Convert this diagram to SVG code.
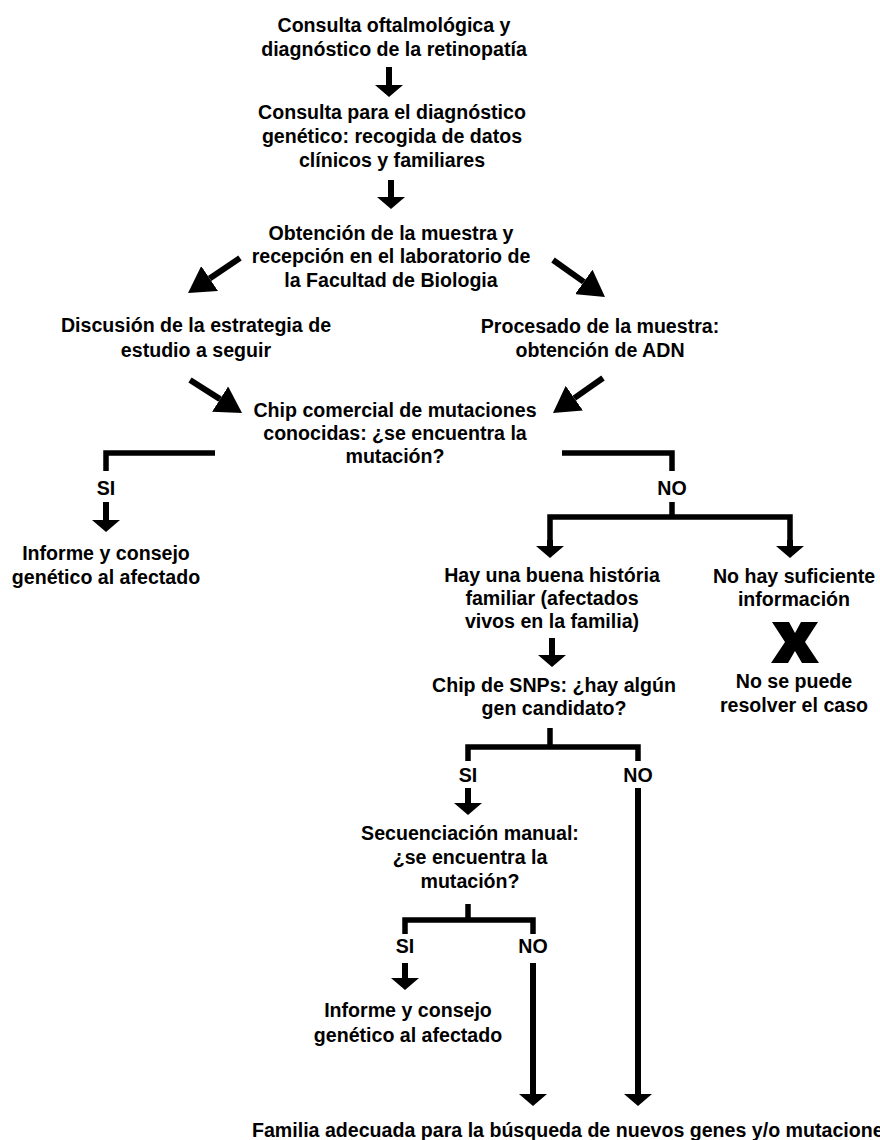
<svg xmlns="http://www.w3.org/2000/svg" width="880" height="1140" viewBox="0 0 880 1140">
<style>
text{font-family:"Liberation Sans",Arial,Helvetica,sans-serif;font-weight:bold;font-size:19.6px;fill:#000;text-anchor:middle}
.start{text-anchor:start}
.ln{stroke:#000;stroke-width:5.5;fill:none;stroke-linecap:butt;stroke-linejoin:miter}
.sh{stroke:#000;stroke-width:6;fill:none}
</style>
<defs>
<marker id="big" viewBox="0 0 26 30" refX="0" refY="15" markerWidth="26" markerHeight="30" markerUnits="userSpaceOnUse" orient="auto"><path d="M0,0 L26,15 L0,30 Z" fill="#000"/></marker>
<marker id="sm" viewBox="0 0 12 28" refX="0" refY="14" markerWidth="12" markerHeight="28" markerUnits="userSpaceOnUse" orient="auto"><path d="M0,0 L12,14 L0,28 Z" fill="#000"/></marker>
</defs>
<rect width="880" height="1140" fill="#fff"/>
<g id="connectors">
<line class="sh" x1="389" y1="67" x2="389" y2="85" marker-end="url(#sm)"/>
<line class="sh" x1="391" y1="180" x2="391" y2="197" marker-end="url(#sm)"/>
<line class="sh" x1="240" y1="258" x2="209.6" y2="278.5" marker-end="url(#big)"/>
<line class="sh" x1="553" y1="260" x2="583.8" y2="281.9" marker-end="url(#big)"/>
<line class="sh" x1="190" y1="380" x2="220.1" y2="399.1" marker-end="url(#big)"/>
<line class="sh" x1="603" y1="378" x2="574.3" y2="398.1" marker-end="url(#big)"/>
<polyline class="ln" points="215,453 106,453 106,471"/>
<line class="sh" x1="106" y1="502" x2="106" y2="520" marker-end="url(#sm)"/>
<polyline class="ln" points="562,453 672,453 672,471"/>
<line class="ln" x1="672" y1="502" x2="672" y2="517"/>
<polyline class="ln" points="550,546 550,517 790,517 790,546"/>
<line class="sh" x1="550" y1="540" x2="550" y2="546" marker-end="url(#sm)"/>
<line class="sh" x1="790" y1="540" x2="790" y2="546" marker-end="url(#sm)"/>
<line class="sh" x1="552" y1="638" x2="552" y2="655" marker-end="url(#sm)"/>
<line class="ln" x1="550" y1="728" x2="550" y2="747"/>
<polyline class="ln" points="468,761 468,747 638,747 638,761"/>
<line class="sh" x1="468" y1="788" x2="468" y2="803" marker-end="url(#sm)"/>
<line class="sh" x1="638" y1="788" x2="638" y2="1094" marker-end="url(#sm)"/>
<line class="ln" x1="468" y1="904" x2="468" y2="920"/>
<polyline class="ln" points="405,934 405,920 533,920 533,934"/>
<line class="sh" x1="405" y1="963" x2="405" y2="978" marker-end="url(#sm)"/>
<line class="sh" x1="533" y1="963" x2="533" y2="1094" marker-end="url(#sm)"/>
</g>
<g id="n1"><text x="394" y="32">Consulta oftalmológica y</text><text x="394" y="56">diagnóstico de la retinopatía</text></g>
<g id="n2"><text x="392" y="119">Consulta para el diagnóstico</text><text x="392" y="143">genético: recogida de datos</text><text x="392" y="167">clínicos y familiares</text></g>
<g id="n3"><text x="391" y="240">Obtención de la muestra y</text><text x="391" y="263">recepción en el laboratorio de</text><text x="391" y="287">la Facultad de Biologia</text></g>
<g id="n4"><text x="196" y="332">Discusión de la estrategia de</text><text x="196" y="357">estudio a seguir</text></g>
<g id="n5"><text x="600" y="333">Procesado de la muestra:</text><text x="600" y="357">obtención de ADN</text></g>
<g id="n6"><text x="395" y="417">Chip comercial de mutaciones</text><text x="395" y="440">conocidas: ¿se encuentra la</text><text x="395" y="463">mutación?</text></g>
<g id="lbl1"><text x="106" y="495">SI</text></g>
<g id="lbl2"><text x="672" y="495">NO</text></g>
<g id="n7"><text x="106" y="560">Informe y consejo</text><text x="106" y="584">genético al afectado</text></g>
<g id="n8"><text x="552" y="582">Hay una buena história</text><text x="552" y="605">familiar (afectados</text><text x="552" y="628">vivos en la familia)</text></g>
<g id="n9"><text x="794" y="583">No hay suficiente</text><text x="794" y="606">información</text></g>
<g id="xmark"><polygon points="772,622 789,622 795,633 801,622 818,622 805,642 819,663 802,663 795,651 788,663 771,663 785,642" fill="#000"/></g>
<g id="n10"><text x="794" y="688">No se puede</text><text x="794" y="712">resolver el caso</text></g>
<g id="n11"><text x="554" y="692">Chip de SNPs: ¿hay algún</text><text x="554" y="715">gen candidato?</text></g>
<g id="lbl3"><text x="468" y="782">SI</text></g>
<g id="lbl4"><text x="638" y="782">NO</text></g>
<g id="n12"><text x="470" y="840">Secuenciación manual:</text><text x="470" y="864">¿se encuentra la</text><text x="470" y="888">mutación?</text></g>
<g id="lbl5"><text x="405" y="953">SI</text></g>
<g id="lbl6"><text x="533" y="953">NO</text></g>
<g id="n13"><text x="408" y="1017">Informe y consejo</text><text x="408" y="1042">genético al afectado</text></g>
<g id="n14"><text class="start" x="252" y="1137">Familia adecuada para la búsqueda de nuevos genes y/o mutaciones</text></g>
</svg>
